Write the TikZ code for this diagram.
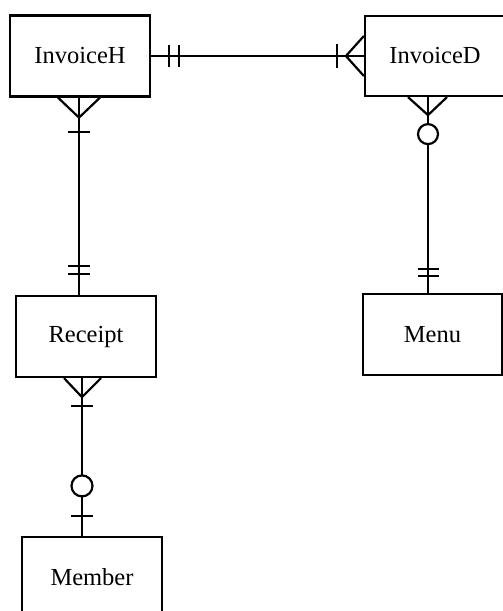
\documentclass[tikz,border=0pt]{standalone}
\usepackage{fontspec}
\setmainfont{Liberation Serif}
\usetikzlibrary{calc}
\begin{document}
\begin{tikzpicture}[x=1pt,y=-1pt,
  entity/.style={draw, line width=2.2pt, minimum width=140pt, minimum height=81pt, inner sep=0pt, font=\fontsize{24.5}{28}\selectfont},
  conn/.style={line width=2.2pt},
  zero/.style={conn, fill=white}
]
\useasboundingbox (0,0) rectangle (503,611);
\clip (0,0) rectangle (503,611);
% entities
\node[entity] (invh) at (80,56) {InvoiceH};
\node[entity, minimum height=80pt] (invd) at (435,56) {InvoiceD};
\node[entity] (rec) at (86,336.5) {Receipt};
\node[entity, minimum width=139pt] (menu) at (432.5,334.5) {Menu};
\node[entity] (mem) at (92,577.5) {Member};

% InvoiceH -- InvoiceD
\draw[conn] (invh.east) -- (invd.west);
\draw[conn] ($(invh.east)+(18,-11)$) -- ++(0,22);
\draw[conn] ($(invh.east)+(28,-11)$) -- ++(0,22);
\draw[conn] ($(invd.west)+(0,-20)$) -- ($(invd.west)+(-18,0)$) -- ($(invd.west)+(0,20)$);
\draw[conn] ($(invd.west)+(-27,-12)$) -- ++(0,24);

% InvoiceH -- Receipt
\coordinate (hs) at ($(invh.south)+(-1,0)$);
\coordinate (rn) at (hs |- rec.north);
\draw[conn] (hs) -- (rn);
\draw[conn] ($(hs)+(-21,0)$) -- ($(hs)+(0,20)$) -- ($(hs)+(21,0)$);
\draw[conn] ($(hs)+(-11,34)$) -- ++(22,0);
\draw[conn] ($(rn)+(-11,-29)$) -- ++(22,0);
\draw[conn] ($(rn)+(-11,-21)$) -- ++(22,0);

% Receipt -- Member
\coordinate (rs) at ($(rec.south)+(-4,0)$);
\coordinate (mn) at (rs |- mem.north);
\draw[conn] (rs) -- (mn);
\draw[conn] ($(rs)+(-18,0)$) -- ($(rs)+(0,19)$) -- ($(rs)+(19,0)$);
\draw[conn] ($(rs)+(-11,28)$) -- ++(22,0);
\draw[zero] ($(mn)+(0,-50)$) circle[radius=10.5];
\draw[conn] ($(mn)+(-11,-20)$) -- ++(22,0);

% InvoiceD -- Menu
\coordinate (ds) at ($(invd.south)+(-7,0)$);
\coordinate (mu) at (ds |- menu.north);
\draw[conn] (ds) -- (mu);
\draw[conn] ($(ds)+(-20,0)$) -- ($(ds)+(0,18)$) -- ($(ds)+(19,0)$);
\draw[zero] ($(ds)+(0,37)$) circle[radius=10];
\draw[conn] ($(mu)+(-10.5,-24)$) -- ++(21,0);
\draw[conn] ($(mu)+(-10.5,-17)$) -- ++(21,0);
\end{tikzpicture}
\end{document}
